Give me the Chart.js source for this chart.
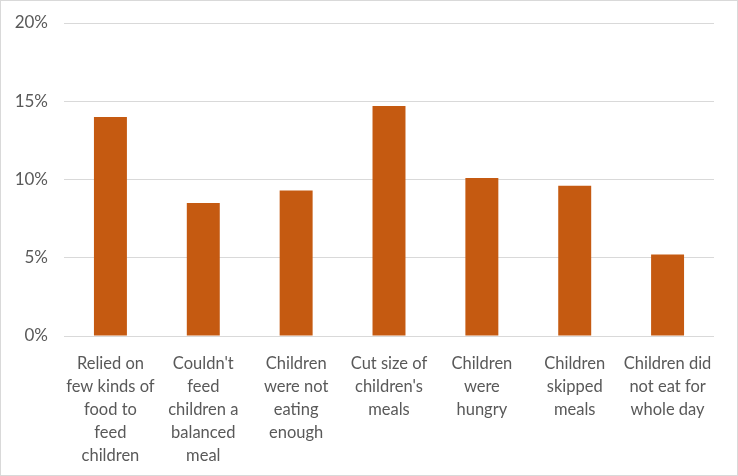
<!DOCTYPE html>
<html><head><meta charset="utf-8">
<script src="https://cdn.jsdelivr.net/npm/chart.js@4"></script>
<style>
html,body{margin:0;padding:0;background:#fff;}
#wrap{position:relative;width:736px;height:474px;border:1px solid #d9d9d9;}
</style></head>
<body><div id="wrap"><canvas id="c" width="736" height="474"></canvas></div>
<script>
const categories = [
  ["Relied on","few kinds of","food to","feed","children"],
  ["Couldn't","feed","children a","balanced","meal"],
  ["Children","were not","eating","enough"],
  ["Cut size of","children's","meals"],
  ["Children","were","hungry"],
  ["Children","skipped","meals"],
  ["Children did","not eat for","whole day"]
];
const values = [14.0, 8.5, 9.3, 14.7, 10.1, 9.6, 5.2];
const yTicks = [0, 5, 10, 15, 20];

const FONT = "'Lato', 'Open Sans', sans-serif";
new Chart(document.getElementById('c'), {
  type: 'bar',
  data: { labels: categories, datasets: [{ data: values, backgroundColor: '#C55A11', borderWidth: 0, categoryPercentage: 1, barPercentage: 0.355 }] },
  options: {
    responsive: false, animation: false,
    layout: { padding: { left: 0, right: 23, top: 22, bottom: 0 } },
    plugins: { legend: { display: false }, tooltip: { enabled: false } },
    scales: {
      x: {
        grid: { display: false },
        border: { display: false },
        ticks: { color: '#595959', font: { family: FONT, size: 16.5, lineHeight: 1.4 }, maxRotation: 0, autoSkip: false, padding: 8 },
        afterFit: s => { s.height = 139; s.paddingLeft = 0; s.paddingRight = 0; }
      },
      y: {
        min: 0, max: 20,
        afterBuildTicks: s => { s.ticks = yTicks.map(v => ({ value: v })); },
        grid: { color: '#d9d9d9', lineWidth: 1, drawTicks: false },
        border: { display: false },
        ticks: { color: '#595959', font: { family: FONT, size: 17 }, padding: 16, callback: v => v + '%' },
        afterFit: s => { s.width = 63; s.paddingTop = 0; s.paddingBottom = 0; }
      }
    }
  }
});
</script></body></html>
